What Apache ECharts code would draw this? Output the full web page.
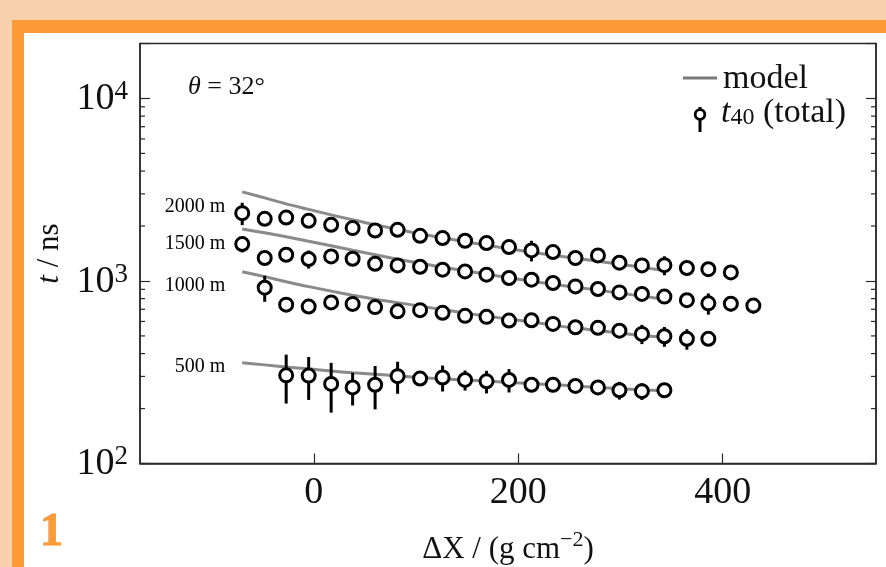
<!DOCTYPE html>
<html>
<head>
<meta charset="utf-8">
<script src="https://cdn.jsdelivr.net/npm/echarts@6/dist/echarts.min.js"></script>
<style>
  html, body { margin: 0; padding: 0; background: #fff; }
  #chart { width: 886px; height: 567px; }
</style>
</head>
<body>
<div id="chart"></div>
<script>
// ---- data -------------------------------------------------------------
// altitude of each row of points
const altitudes = ['2000 m', '1500 m', '1000 m', '500 m'];

// slant-depth offset ΔX (g/cm²) and arrival time t40 (ns) with uncertainty
const dx2000  = [-70, -48, -27, -5, 17, 38, 60, 82, 104, 126, 148, 169, 191, 213, 234, 256, 278, 299, 321, 343, 365, 386, 408];
const t2000   = [2353, 2190, 2226, 2136, 2031, 1948, 1890, 1907, 1768, 1718, 1661, 1613, 1534, 1470, 1440, 1336, 1380, 1259, 1217, 1220, 1178, 1160, 1114];
const err2000 = [330, 90, 100, 90, 90, 90, 100, 110, 100, 100, 100, 100, 100, 190, 100, 110, 100, 100, 100, 145, 90, 90, 90];

const dx1500  = [-70, -48, -27, -5, 17, 38, 60, 82, 104, 126, 148, 169, 191, 213, 234, 256, 278, 299, 321, 343, 365, 386, 408, 430];
const t1500   = [1593, 1336, 1392, 1319, 1363, 1324, 1243, 1217, 1197, 1153, 1128, 1083, 1038, 1016, 975, 934, 904, 866, 849, 821, 785, 754, 751, 733];
const err1500 = [160, 70, 70, 150, 70, 70, 70, 70, 70, 70, 70, 70, 70, 70, 70, 70, 70, 70, 70, 70, 70, 100, 70, 70];

const dx1000  = [-48, -27, -5, 17, 38, 60, 82, 104, 126, 148, 169, 191, 213, 234, 256, 278, 299, 321, 343, 365, 386];
const t1000   = [919, 742, 724, 763, 749, 719, 682, 692, 669, 644, 636, 607, 609, 582, 558, 554, 534, 513, 498, 482, 482];
const err1000 = [150, 40, 40, 45, 40, 40, 40, 40, 40, 40, 40, 40, 40, 40, 40, 40, 40, 62, 62, 62, 40];

const dx500   = [-27, -5, 17, 38, 60, 82, 104, 126, 148, 169, 191, 213, 234, 256, 278, 299, 321, 343];
const t500    = [304, 303, 273, 261, 270, 301, 292, 296, 287, 282, 287, 270, 270, 266, 261, 252, 249, 252];
const err500  = [91, 80, 83, 53, 72, 60, 26, 48, 36, 40, 42, 22, 24, 22, 24, 28, 26, 24];

// model prediction for each altitude
const dxModel   = [-70, -48, -27, -5, 17, 38, 60, 82, 104, 126, 148, 169, 191, 213, 234, 256, 278, 299, 321, 343];
const model2000 = [3076, 2853, 2645, 2468, 2303, 2163, 2031, 1920, 1813, 1724, 1640, 1569, 1502, 1437, 1384, 1332, 1283, 1235, 1190, 1138];
const model1500 = [1924, 1836, 1746, 1650, 1560, 1474, 1392, 1316, 1251, 1190, 1138, 1089, 1042, 997, 961, 925, 891, 858, 826, 795];
const model1000 = [1124, 1056, 991, 931, 880, 836, 795, 761, 728, 697, 667, 642, 618, 596, 573, 552, 535, 519, 502, 490];
const model500  = [356, 347, 338, 330, 321, 314, 308, 302, 296, 291, 287, 283, 278, 274, 270, 266, 261, 257, 253, 250];

// where the altitude names are written (data coordinates)
const altLabelX = -86;
const altLabelT = [2547, 1609, 943, 338];

// axis ticks
const xTicks = [0, 200, 400];
const yMinorTicks = [200, 300, 400, 500, 600, 700, 800, 900, 2000, 3000, 4000, 5000, 6000, 7000, 8000, 9000];

// ---- styling ----------------------------------------------------------
const SERIF = '"Liberation Serif", "DejaVu Serif", serif';
const INK = '#111';
const FRAME = '#2a2a2a';
const MODEL = '#8a8a8a';
const PEACH = '#F8D1AC';
const ORANGE = '#FC9A35';

const zip = (xs, ys) => xs.map((x, i) => [x, ys[i]]);
const zip3 = (xs, ys, es) => xs.map((x, i) => [x, ys[i], es[i]]);

const rows = [
  { dx: dx2000, t: t2000, err: err2000, model: model2000 },
  { dx: dx1500, t: t1500, err: err1500, model: model1500 },
  { dx: dx1000, t: t1000, err: err1000, model: model1000 },
  { dx: dx500,  t: t500,  err: err500,  model: model500 }
];

function renderErrorBar(params, api) {
  const x = api.value(0), t = api.value(1), e = api.value(2);
  const lo = api.coord([x, t - e]);
  const hi = api.coord([x, t + e]);
  return {
    type: 'line',
    shape: { x1: lo[0], y1: lo[1], x2: hi[0], y2: hi[1] },
    style: { stroke: '#000', lineWidth: 3 }
  };
}

function renderMinorTick(params, api) {
  const y = api.coord([0, api.value(1)])[1];
  const cs = params.coordSys;
  const st = { stroke: FRAME, lineWidth: 1.2 };
  return {
    type: 'group',
    children: [
      { type: 'line', shape: { x1: cs.x, y1: y, x2: cs.x + 5, y2: y }, style: st },
      { type: 'line', shape: { x1: cs.x + cs.width - 5, y1: y, x2: cs.x + cs.width, y2: y }, style: st }
    ]
  };
}

const series = [];
rows.forEach(r => {
  series.push({
    type: 'line', name: 'model', data: zip(dxModel, r.model),
    showSymbol: false, smooth: 0.3, silent: true, z: 1,
    lineStyle: { color: MODEL, width: 3 }
  });
  series.push({
    type: 'custom', name: 'error', data: zip3(r.dx, r.t, r.err),
    renderItem: renderErrorBar, silent: true, z: 2
  });
  series.push({
    type: 'scatter', name: 't40', data: zip(r.dx, r.t), z: 3,
    symbol: 'circle', symbolSize: 13,
    itemStyle: { color: '#fff', borderColor: '#000', borderWidth: 3, opacity: 1 }
  });
});

series.push({
  type: 'scatter', name: 'altitude',
  data: altitudes.map((a, i) => ({ value: [altLabelX, altLabelT[i]], name: a })),
  symbolSize: 1, z: 4, silent: true,
  itemStyle: { color: 'transparent', borderWidth: 0 },
  label: {
    show: true, position: 'left', distance: 0,
    formatter: p => p.name,
    fontFamily: SERIF, fontSize: 20, color: '#000',
    textBorderWidth: 0, opacity: 1
  },
  emphasis: { disabled: true }
});

series.push({
  type: 'custom', name: 'minor ticks', yAxisIndex: 0,
  data: yMinorTicks.map(v => [0, v]),
  renderItem: renderMinorTick, silent: true, z: 5
});

function powerLabel(v) {
  const e = Math.round(Math.log10(v));
  if (Math.abs(v - Math.pow(10, e)) > 1e-6 * v) return '';
  return '{b|10}{s|' + e + '}';
}

const powRich = {
  b: { fontFamily: SERIF, fontSize: 38, lineHeight: 40, verticalAlign: 'bottom', color: INK },
  s: { fontFamily: SERIF, fontSize: 27, lineHeight: 17, verticalAlign: 'top', color: INK }
};

const option = {
  animation: false,
  backgroundColor: '#fff',
  grid: {
    left: 140, right: 10, top: 43.5, bottom: 103.5,
    outerBoundsMode: 'none', containLabel: false,
    show: true, borderColor: FRAME, borderWidth: 1.5, backgroundColor: '#fff'
  },
  xAxis: {
    type: 'value', min: -170, max: 550,
    axisLine: { onZero: false, lineStyle: { color: FRAME, width: 1.5 } },
    axisTick: { inside: true, length: 10, customValues: xTicks, lineStyle: { color: FRAME, width: 1.2 } },
    axisLabel: {
      customValues: xTicks, margin: 11,
      formatter: v => (xTicks.indexOf(v) >= 0 ? String(v) : ''),
      fontFamily: SERIF, fontSize: 38, color: INK
    },
    splitLine: { show: false },
    name: '{n|ΔX / (g cm}{s|−2}{n|)}',
    nameLocation: 'middle', nameGap: 66,
    nameTextStyle: {
      rich: {
        n: { fontFamily: SERIF, fontSize: 31, lineHeight: 36, verticalAlign: 'bottom', color: INK },
        s: { fontFamily: SERIF, fontSize: 22, lineHeight: 16, verticalAlign: 'top', color: INK }
      }
    }
  },
  yAxis: [
    {
      type: 'log', min: 100, max: 20000, logBase: 10, position: 'left',
      axisLine: { onZero: false, lineStyle: { color: FRAME, width: 1.5 } },
      axisTick: { inside: true, length: 10, lineStyle: { color: FRAME, width: 1.2 } },
      axisLabel: { margin: 12, formatter: powerLabel, rich: powRich },
      splitLine: { show: false },
      name: '{i|t} / ns',
      nameLocation: 'middle', nameGap: 74, nameRotate: 90,
      nameTextStyle: {
        fontFamily: SERIF, fontSize: 31, color: INK,
        rich: {
          i: { fontFamily: SERIF, fontSize: 31, fontStyle: 'italic', color: INK }
        }
      }
    },
    {
      type: 'log', min: 100, max: 20000, logBase: 10, position: 'right',
      axisLine: { onZero: false, lineStyle: { color: FRAME, width: 1.5 } },
      axisTick: { inside: true, length: 10, lineStyle: { color: FRAME, width: 1.2 } },
      axisLabel: { show: false },
      splitLine: { show: false }
    }
  ],
  graphic: [
    // page frame
    { type: 'rect', silent: true, z: -10, shape: { x: 0, y: 0, width: 886, height: 20 }, style: { fill: PEACH } },
    { type: 'rect', silent: true, z: -10, shape: { x: 0, y: 0, width: 12, height: 567 }, style: { fill: PEACH } },
    { type: 'rect', silent: true, z: -10, shape: { x: 12, y: 20, width: 874, height: 13 }, style: { fill: ORANGE } },
    { type: 'rect', silent: true, z: -10, shape: { x: 12, y: 20, width: 12, height: 547 }, style: { fill: ORANGE } },
    {
      type: 'text', x: 40, y: 533, silent: true,
      style: {
        text: '1', font: 'bold 46px "Liberation Serif", serif',
        fill: ORANGE, stroke: ORANGE, lineWidth: 1, verticalAlign: 'middle'
      }
    },
    // zenith angle
    {
      type: 'text', x: 188, y: 87, z: 10, silent: true,
      style: {
        text: '{i|θ} = 32°', fontFamily: SERIF, fontSize: 26, fill: INK, verticalAlign: 'middle',
        rich: { i: { fontFamily: SERIF, fontSize: 26, fontStyle: 'italic', fill: INK } }
      }
    },
    // legend: model
    { type: 'line', z: 10, silent: true, shape: { x1: 683, y1: 78, x2: 717, y2: 78 }, style: { stroke: '#7a7a7a', lineWidth: 3 } },
    {
      type: 'text', x: 723, y: 79, z: 10, silent: true,
      style: { text: 'model', fontFamily: SERIF, fontSize: 34, fill: INK, verticalAlign: 'middle' }
    },
    // legend: t40 (total)
    { type: 'line', z: 10, silent: true, shape: { x1: 700, y1: 107, x2: 700, y2: 132 }, style: { stroke: '#000', lineWidth: 3 } },
    { type: 'circle', z: 11, silent: true, shape: { cx: 700, cy: 114.5, r: 4.8 }, style: { fill: '#fff', stroke: '#000', lineWidth: 2.8 } },
    {
      type: 'text', x: 721, y: 112, z: 10, silent: true,
      style: {
        text: '{i|t}{sub|40}{r| (total)}', verticalAlign: 'middle',
        rich: {
          i: { fontFamily: SERIF, fontSize: 34, fontStyle: 'italic', lineHeight: 36, verticalAlign: 'bottom', fill: INK },
          sub: { fontFamily: SERIF, fontSize: 24, lineHeight: 20, verticalAlign: 'bottom', fill: INK },
          r: { fontFamily: SERIF, fontSize: 34, lineHeight: 36, verticalAlign: 'bottom', fill: INK }
        }
      }
    }
  ],
  series
};

const chart = echarts.init(document.getElementById('chart'));
chart.setOption(option);
</script>
</body>
</html>
